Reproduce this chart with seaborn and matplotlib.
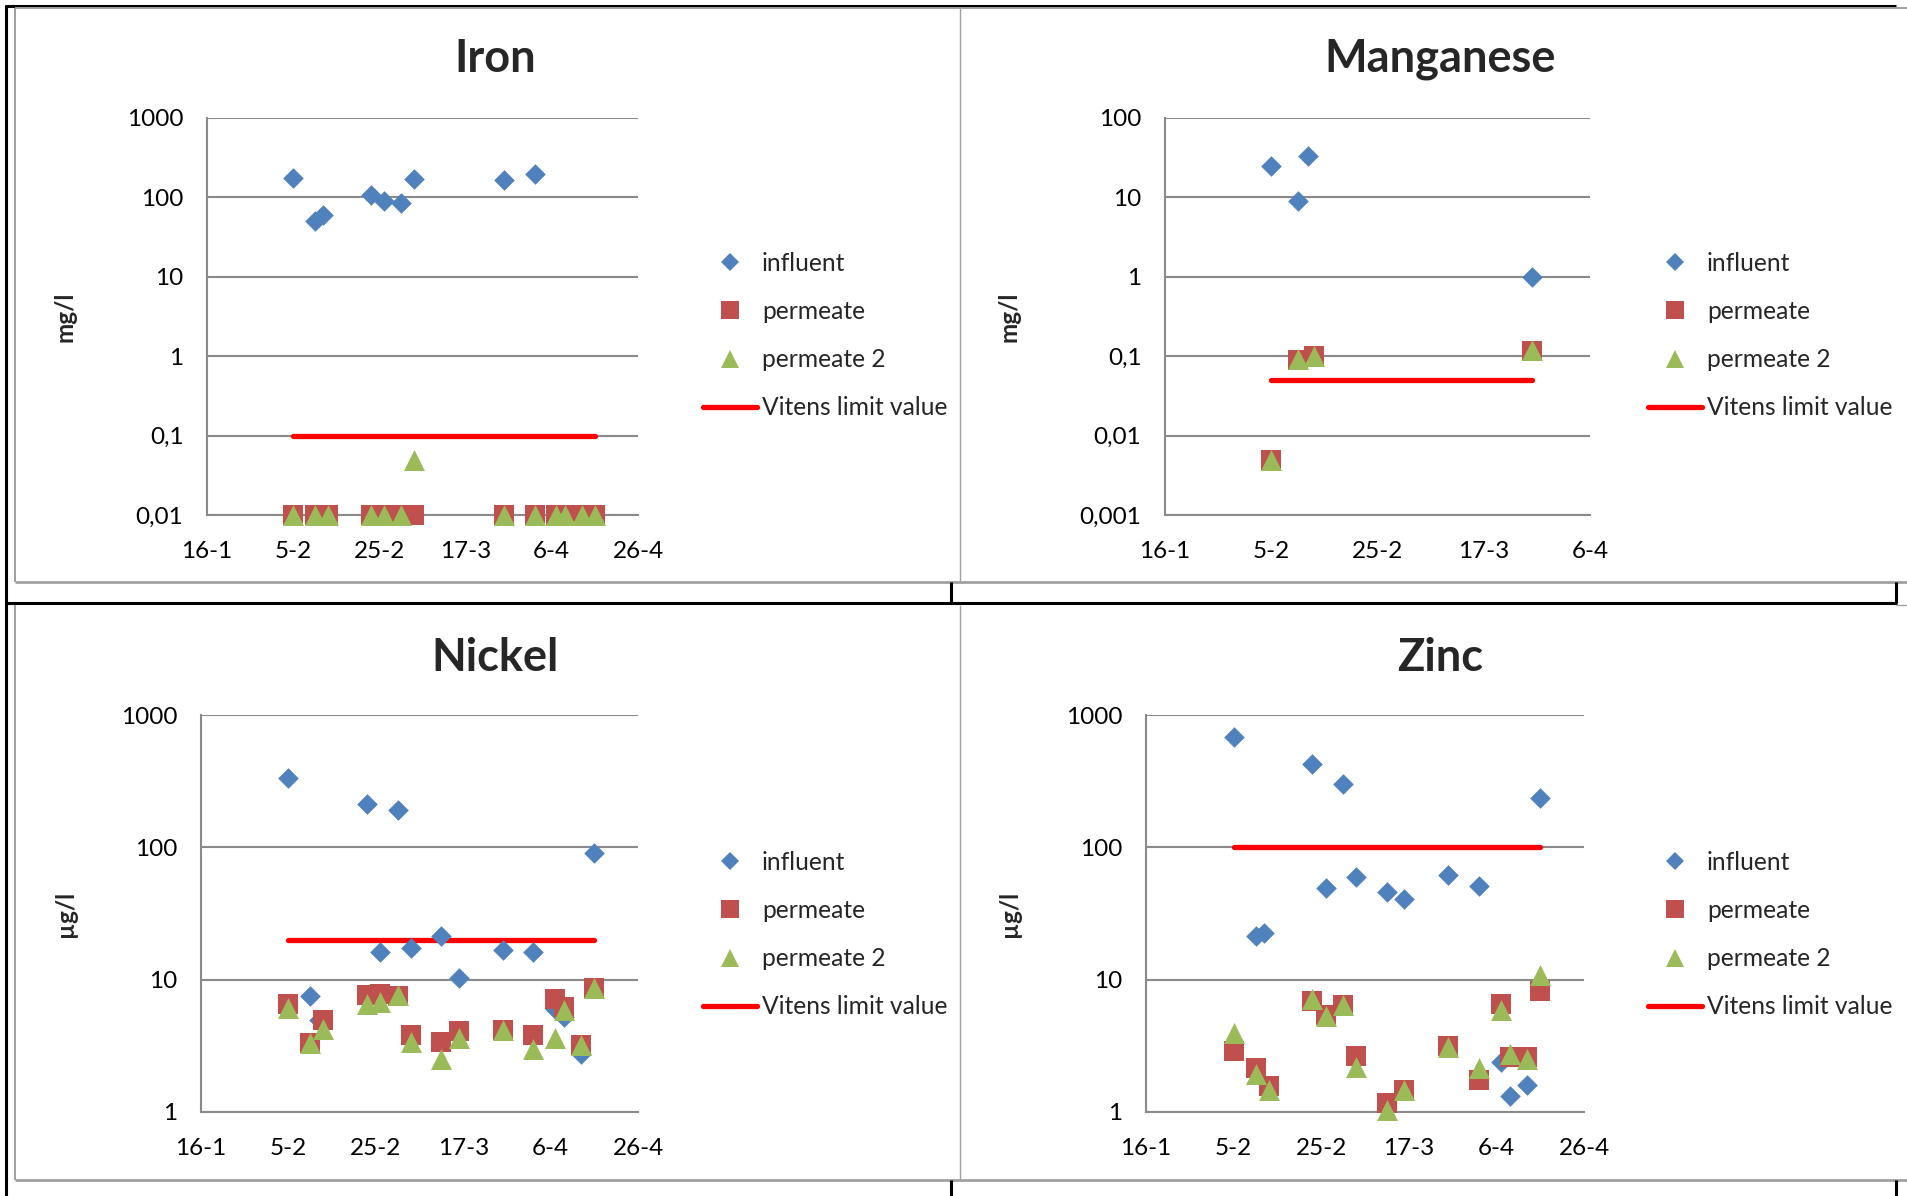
import numpy as np
import pandas as pd
import matplotlib
matplotlib.use("Agg")
import matplotlib.pyplot as plt
import matplotlib.ticker as mticker
from matplotlib.lines import Line2D
import seaborn as sns

# ---------------------------------------------------------------- data
influent_dates = ["2009-02-05", "2009-02-10", "2009-02-12", "2009-02-23", "2009-02-26",
                  "2009-03-02", "2009-03-05", "2009-03-12", "2009-03-16", "2009-03-26",
                  "2009-04-02", "2009-04-07", "2009-04-09", "2009-04-13", "2009-04-16"]
permeate_dates = ["2009-02-05", "2009-02-10", "2009-02-13", "2009-02-23", "2009-02-26",
                  "2009-03-02", "2009-03-05", "2009-03-12", "2009-03-16", "2009-03-26",
                  "2009-04-02", "2009-04-07", "2009-04-09", "2009-04-13", "2009-04-16"]

nan = np.nan
iron_influent = [178, 51, 60, 108, 91, 85, 170, nan, nan, 165, 199, nan, nan, nan, nan]
iron_permeate = [0.01, 0.01, 0.01, 0.01, 0.01, 0.01, 0.01, nan, nan, 0.01, 0.01, 0.01, 0.01, 0.01, 0.01]
iron_permeate2 = [0.01, 0.01, 0.01, 0.01, 0.01, 0.01, 0.05, nan, nan, 0.01, 0.01, 0.01, 0.01, 0.01, 0.01]
iron_limit = 0.1

mn_influent = [25, 9.0, 33.5, nan, nan, nan, nan, nan, nan, 1.0, nan, nan, nan, nan, nan]
mn_permeate = [0.005, 0.089, 0.10, nan, nan, nan, nan, nan, nan, 0.115, nan, nan, nan, nan, nan]
mn_permeate2 = [0.005, 0.092, 0.10, nan, nan, nan, nan, nan, nan, 0.118, nan, nan, nan, nan, nan]
mn_limit = 0.05

ni_influent = [336, 7.5, 5.0, 213, 16.1, 192, 17.5, 21.4, 10.3, 16.8, 16.1, 6.0, 5.2, 2.75, 90]
ni_permeate = [6.6, 3.3, 5.0, 7.7, 7.8, 7.5, 3.8, 3.4, 4.1, 4.2, 3.8, 7.2, 6.2, 3.2, 8.6]
ni_permeate2 = [6.1, 3.3, 4.25, 6.6, 6.8, 7.6, 3.4, 2.5, 3.6, 4.2, 3.0, 3.6, 5.85, 3.2, 8.6]
ni_limit = 20

zn_influent = [686, 21.5, 22.7, 424, 49, 303, 60, 46, 40.4, 62, 50.7, 2.4, 1.32, 1.6, 236]
zn_permeate = [2.9, 2.15, 1.56, 6.95, 5.4, 6.4, 2.63, 1.16, 1.46, 3.18, 1.76, 6.56, 2.6, 2.6, 8.2]
zn_permeate2 = [3.97, 1.95, 1.46, 7.1, 5.3, 6.4, 2.2, 1.03, 1.46, 3.1, 2.16, 5.95, 2.72, 2.5, 10.9]
zn_limit = 100

titles = ["Iron", "Manganese", "Nickel", "Zinc"]
units = ["mg/l", "mg/l", "\u00b5g/l", "\u00b5g/l"]
series_labels = ["influent", "permeate", "permeate 2", "Vitens limit value"]

# ---------------------------------------------------------------- style
sns.set_style("white")
plt.rcParams["font.family"] = ["Lato", "DejaVu Sans"]

W, H = 1907, 1196
fig = plt.figure(figsize=(W / 100, H / 100), dpi=100)

C_INF = "#4F81BD"
C_PER = "#C0504D"
C_PER2 = "#9BBB59"
C_LIM = "#FF0000"
GRID = "#8a8a8a"


def px_box(x0, y0, x1, y1):
    return [x0 / W, 1 - y1 / H, (x1 - x0) / W, (y1 - y0) / H]


def fig_line(xs, ys, color, lw):
    fig.add_artist(Line2D([x / W for x in xs], [1 - y / H for y in ys],
                          transform=fig.transFigure, color=color, lw=lw,
                          solid_capstyle="butt"))


def fmt_num(v):
    s = f"{v:g}"
    return s.replace(".", ",")


panels = [
    dict(box=(207, 118, 638, 515), xmax="2009-04-26", ylim=(0.01, 1000),
         data=(iron_influent, iron_permeate, iron_permeate2), limit=iron_limit,
         title_xy=(495, 59.5), ylab_x=-0.302, leg_xy=(703, 251.5)),
    dict(box=(1165, 118, 1590, 515), xmax="2009-04-06", ylim=(0.001, 100),
         data=(mn_influent, mn_permeate, mn_permeate2), limit=mn_limit,
         title_xy=(1440, 59.5), ylab_x=-0.340, leg_xy=(1648, 251.5)),
    dict(box=(201, 715, 638, 1112), xmax="2009-04-26", ylim=(1, 1000),
         data=(ni_influent, ni_permeate, ni_permeate2), limit=ni_limit,
         title_xy=(495, 657.5), ylab_x=-0.284, leg_xy=(703, 850.5)),
    dict(box=(1146, 715, 1584, 1112), xmax="2009-04-26", ylim=(1, 1000),
         data=(zn_influent, zn_permeate, zn_permeate2), limit=zn_limit,
         title_xy=(1440, 657.5), ylab_x=-0.286, leg_xy=(1648, 850.5)),
]

d_inf = pd.to_datetime(influent_dates)
d_per = pd.to_datetime(permeate_dates)
xmin = pd.Timestamp("2009-01-16")

for i, p in enumerate(panels):
    ax = fig.add_axes(px_box(*p["box"]))
    inf, per, per2 = p["data"]

    # limit line across the dates on which the permeate was sampled
    per_arr = np.array(per, dtype=float)
    lim_dates = d_per[~np.isnan(per_arr)]
    sns.lineplot(x=lim_dates, y=[p["limit"]] * len(lim_dates), ax=ax, color=C_LIM,
                 lw=3.8, solid_capstyle="round", zorder=2)

    sns.scatterplot(x=d_inf, y=inf, ax=ax, marker="D", s=110, color=C_INF,
                    linewidth=0, zorder=3, clip_on=False)
    sns.scatterplot(x=d_per, y=per, ax=ax, marker="s", s=222, color=C_PER,
                    linewidth=0, zorder=4, clip_on=False)
    sns.scatterplot(x=d_per, y=per2, ax=ax, marker="^", s=228, color=C_PER2,
                    linewidth=0, zorder=5, clip_on=False)

    ax.set_yscale("log")
    lo, hi = p["ylim"]
    ax.set_ylim(lo, hi)
    yt = [10.0 ** k for k in range(int(round(np.log10(lo))), int(round(np.log10(hi))) + 1)]
    ax.yaxis.set_major_locator(mticker.FixedLocator(yt))
    ax.yaxis.set_minor_locator(mticker.NullLocator())
    ax.set_yticklabels([fmt_num(v) for v in yt])

    xmax = pd.Timestamp(p["xmax"])
    ax.set_xlim(xmin, xmax)
    xt = pd.date_range(xmin, xmax, freq="20D")
    ax.set_xticks(xt)
    ax.set_xticklabels([f"{d.day}-{d.month}" for d in xt])

    ax.grid(axis="y", color=GRID, lw=1.5)
    ax.grid(axis="x", visible=False)
    for s in ["top", "right"]:
        ax.spines[s].set_visible(False)
    for s in ["left", "bottom"]:
        ax.spines[s].set_color(GRID)
        ax.spines[s].set_linewidth(1.5)
    ax.set_axisbelow(True)
    ax.tick_params(axis="both", length=0, labelsize=17.5, colors="black")
    ax.tick_params(axis="y", pad=17)
    ax.tick_params(axis="x", pad=18.5)

    ax.set_xlabel("")
    ax.set_ylabel(units[i], fontsize=17.5, fontweight="bold", rotation=90)
    ax.yaxis.set_label_coords(p["ylab_x"], 0.5)

    fig.text(p["title_xy"][0] / W, 1 - p["title_xy"][1] / H, titles[i],
             ha="center", va="center", fontsize=32.5, fontweight="bold")

    handles = [
        Line2D([], [], marker="D", color=C_INF, ls="none", ms=9, mew=0),
        Line2D([], [], marker="s", color=C_PER, ls="none", ms=13, mew=0),
        Line2D([], [], marker="^", color=C_PER2, ls="none", ms=13.5, mew=0),
        Line2D([], [], color=C_LIM, lw=3.8, solid_capstyle="round"),
    ]
    lx, ly = p["leg_xy"]
    ax.legend(handles, series_labels, loc="upper left",
              bbox_to_anchor=(lx / W, 1 - ly / H), bbox_transform=fig.transFigure,
              frameon=False, fontsize=17.7, handlelength=2.2, handletextpad=0.2,
              labelspacing=1.03, borderpad=0, borderaxespad=0)

# ---------------------------------------------------------------- table borders
BLK = "#000000"
GRY = "#a0a0a0"
fig_line([6, 6], [5, 1196], BLK, 2.2)
fig_line([5, 1896], [6, 6], BLK, 2.2)
fig_line([15, 1907], [8, 8], GRY, 1.4)
fig_line([15, 15], [8, 582], GRY, 1.4)
fig_line([15, 15], [605, 1180], GRY, 1.4)
fig_line([960, 960], [8, 582], GRY, 1.0)
fig_line([960, 960], [605, 1180], GRY, 1.0)
fig_line([15, 1907], [582, 582], GRY, 2.0)
fig_line([951, 951], [582, 603], BLK, 2.2)
fig_line([1896, 1896], [582, 603], BLK, 2.2)
fig_line([5, 1897], [603, 603], BLK, 2.2)
fig_line([1896, 1907], [604.5, 604.5], GRY, 1.0)
fig_line([15, 1907], [1180, 1180], GRY, 2.0)
fig_line([951, 951], [1180, 1196], BLK, 2.2)
fig_line([1896, 1896], [1180, 1196], BLK, 2.2)

fig.savefig("out.png", dpi=100)
